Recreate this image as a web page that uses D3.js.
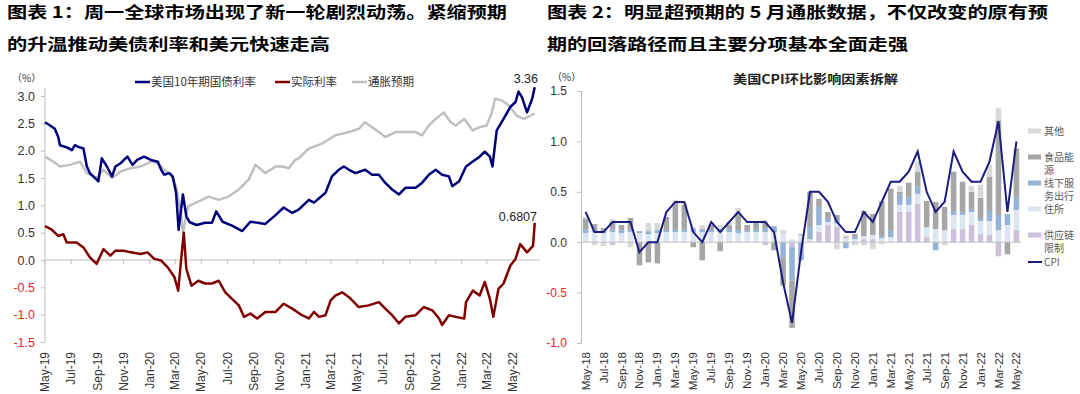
<!DOCTYPE html>
<html>
<head>
<meta charset="utf-8">
<script src="https://cdn.jsdelivr.net/npm/d3@7"></script>
<style>
  body { margin: 0; background: #fff; }
  svg text { font-family: "Liberation Sans", Arial, sans-serif; }
</style>
</head>
<body>
<div id="chart"></div>
<script>
// ---- left chart data (%) ----
var yield10y = [
  ["2019-05-01",2.52],["2019-05-13",2.46],["2019-05-24",2.40],["2019-06-01",2.25],["2019-06-05",2.10],
  ["2019-06-21",2.06],["2019-07-03",2.01],["2019-07-10",2.10],["2019-07-18",2.07],["2019-07-30",2.04],
  ["2019-08-07",1.71],["2019-08-14",1.59],["2019-08-22",1.53],["2019-09-03",1.44],["2019-09-11",1.86],
  ["2019-09-23",1.71],["2019-10-05",1.53],["2019-10-13",1.71],["2019-10-25",1.77],["2019-11-02",1.83],
  ["2019-11-10",1.89],["2019-11-22",1.74],["2019-12-03",1.83],["2019-12-19",1.89],["2020-01-04",1.83],
  ["2020-01-20",1.80],["2020-01-28",1.65],["2020-02-04",1.56],["2020-02-16",1.59],["2020-02-24",1.53],
  ["2020-03-03",1.23],["2020-03-09",0.55],["2020-03-19",1.20],["2020-03-27",0.80],["2020-04-04",0.69],
  ["2020-04-20",0.64],["2020-05-10",0.68],["2020-05-26",0.68],["2020-06-05",0.89],["2020-06-20",0.70],
  ["2020-07-12",0.63],["2020-08-05",0.53],["2020-08-24",0.70],["2020-09-10",0.68],["2020-09-28",0.66],
  ["2020-10-22",0.82],["2020-11-10",0.96],["2020-11-30",0.86],["2020-12-15",0.92],["2021-01-08",1.10],
  ["2021-01-20",1.05],["2021-02-16",1.23],["2021-03-03",1.53],["2021-03-19",1.65],["2021-03-31",1.71],
  ["2021-04-12",1.65],["2021-04-27",1.59],["2021-05-20",1.65],["2021-06-05",1.56],["2021-06-21",1.56],
  ["2021-07-06",1.41],["2021-07-22",1.29],["2021-08-07",1.20],["2021-08-22",1.32],["2021-09-15",1.32],
  ["2021-09-30",1.41],["2021-10-16",1.56],["2021-11-01",1.65],["2021-11-16",1.56],["2021-12-02",1.53],
  ["2021-12-10",1.35],["2021-12-26",1.44],["2022-01-11",1.71],["2022-01-27",1.80],["2022-02-12",1.89],
  ["2022-02-24",1.98],["2022-03-08",1.89],["2022-03-14",1.71],["2022-03-24",2.37],["2022-04-09",2.58],
  ["2022-04-25",2.80],["2022-05-07",2.89],["2022-05-14",3.08],["2022-05-22",2.98],["2022-06-03",2.70],
  ["2022-06-15",2.95],["2022-06-21",3.16]
];
var realRate = [
  ["2019-05-01",0.62],["2019-05-16",0.56],["2019-06-01",0.44],["2019-06-13",0.47],["2019-06-21",0.32],
  ["2019-07-14",0.32],["2019-07-30",0.23],["2019-08-14",0.05],["2019-08-30",-0.07],["2019-09-15",0.20],
  ["2019-10-01",0.08],["2019-10-13",0.17],["2019-11-02",0.17],["2019-11-18",0.14],["2019-12-11",0.11],
  ["2019-12-27",0.14],["2020-01-12",0.02],["2020-01-28",-0.01],["2020-02-12",-0.13],["2020-02-28",-0.31],
  ["2020-03-08",-0.56],["2020-03-15",0.02],["2020-03-21",0.50],["2020-03-27",-0.16],["2020-04-08",-0.47],
  ["2020-04-24",-0.38],["2020-05-10",-0.43],["2020-05-26",-0.43],["2020-06-11",-0.38],["2020-06-26",-0.59],
  ["2020-07-12",-0.71],["2020-07-28",-0.83],["2020-08-09",-1.04],["2020-08-24",-0.98],["2020-09-09",-1.07],
  ["2020-09-28",-0.95],["2020-10-22",-0.95],["2020-11-10",-0.80],["2020-11-30",-0.89],["2020-12-23",-1.01],
  ["2021-01-08",-1.07],["2021-01-20",-0.95],["2021-02-01",-1.04],["2021-02-16",-1.01],["2021-02-28",-0.74],
  ["2021-03-11",-0.65],["2021-03-27",-0.59],["2021-04-12",-0.68],["2021-05-05",-0.86],["2021-05-28",-0.83],
  ["2021-06-21",-0.77],["2021-07-06",-0.89],["2021-07-22",-1.01],["2021-08-07",-1.16],["2021-08-22",-1.04],
  ["2021-09-15",-1.01],["2021-10-04",-0.86],["2021-10-24",-0.92],["2021-11-09",-1.07],["2021-11-16",-1.19],
  ["2021-12-02",-1.01],["2021-12-18",-1.04],["2022-01-07",-1.07],["2022-01-11",-0.77],["2022-01-27",-0.56],
  ["2022-02-12",-0.65],["2022-02-24",-0.40],["2022-03-08",-0.71],["2022-03-16",-1.04],["2022-03-28",-0.53],
  ["2022-04-09",-0.43],["2022-04-25",-0.10],["2022-05-07",0.02],["2022-05-18",0.29],["2022-06-03",0.14],
  ["2022-06-17",0.26],["2022-06-21",0.68]
];
var breakeven = [
  ["2019-05-01",1.89],["2019-05-20",1.80],["2019-06-05",1.71],["2019-06-28",1.74],["2019-07-22",1.80],
  ["2019-08-07",1.59],["2019-08-30",1.50],["2019-09-15",1.65],["2019-10-05",1.50],["2019-10-25",1.62],
  ["2019-11-18",1.68],["2019-12-11",1.71],["2020-01-04",1.80],["2020-01-20",1.77],["2020-02-04",1.65],
  ["2020-02-20",1.56],["2020-03-03",1.35],["2020-03-15",0.80],["2020-03-19",0.50],["2020-03-31",0.98],
  ["2020-04-24",1.07],["2020-05-18",1.16],["2020-06-11",1.10],["2020-07-04",1.16],["2020-07-28",1.29],
  ["2020-08-20",1.47],["2020-09-05",1.74],["2020-09-28",1.59],["2020-10-22",1.71],["2020-11-06",1.71],
  ["2020-11-22",1.68],["2020-12-07",1.83],["2020-12-15",1.86],["2021-01-08",2.04],["2021-02-08",2.13],
  ["2021-03-11",2.28],["2021-04-12",2.34],["2021-05-05",2.40],["2021-05-20",2.52],["2021-06-05",2.43],
  ["2021-06-21",2.34],["2021-07-06",2.25],["2021-07-30",2.34],["2021-08-22",2.34],["2021-09-15",2.34],
  ["2021-09-30",2.28],["2021-10-16",2.46],["2021-11-01",2.58],["2021-11-20",2.70],["2021-12-06",2.52],
  ["2021-12-18",2.46],["2022-01-07",2.58],["2022-01-27",2.37],["2022-02-12",2.43],["2022-02-28",2.46],
  ["2022-03-12",2.68],["2022-03-20",2.95],["2022-04-05",2.92],["2022-04-21",2.83],["2022-05-10",2.64],
  ["2022-05-26",2.58],["2022-06-11",2.64],["2022-06-21",2.68]
];
var leftTicks = ["May-19","Jul-19","Sep-19","Nov-19","Jan-20","Mar-20","May-20","Jul-20","Sep-20","Nov-20",
  "Jan-21","Mar-21","May-21","Jul-21","Sep-21","Nov-21","Jan-22","Mar-22","May-22"];
var leftYTicks = [-1.5,-1.0,-0.5,0.0,0.5,1.0,1.5,2.0,2.5,3.0];

// ---- right chart data (pct-pt contribution to CPI m/m) ----
var months = ["May-18","Jun-18","Jul-18","Aug-18","Sep-18","Oct-18","Nov-18","Dec-18","Jan-19","Feb-19",
  "Mar-19","Apr-19","May-19","Jun-19","Jul-19","Aug-19","Sep-19","Oct-19","Nov-19","Dec-19","Jan-20",
  "Feb-20","Mar-20","Apr-20","May-20","Jun-20","Jul-20","Aug-20","Sep-20","Oct-20","Nov-20","Dec-20",
  "Jan-21","Feb-21","Mar-21","Apr-21","May-21","Jun-21","Jul-21","Aug-21","Sep-21","Oct-21","Nov-21",
  "Dec-21","Jan-22","Feb-22","Mar-22","Apr-22","May-22"];
var cpi = [0.3,0.1,0.1,0.2,0.2,0.2,-0.1,0.0,0.0,0.3,0.4,0.4,0.1,0.0,0.2,0.1,0.2,0.3,0.2,0.2,0.2,0.1,
  -0.4,-0.8,-0.1,0.5,0.5,0.4,0.2,0.1,0.1,0.3,0.2,0.4,0.6,0.6,0.7,0.9,0.5,0.3,0.4,0.9,0.7,0.6,0.6,0.8,1.2,0.3,1.0];
var supplyChain = [0,0,0,-0.03,0,0,0,0,0,0,0,0,0,0,0,0,0,0,0,0,-0.03,0,0,-0.05,0,0,0.10,0.17,0.15,0,0,0.03,
  0.03,0,0,0.30,0.30,0.38,0.05,0,0,0.13,0.13,0.17,0.08,0.07,-0.14,0,0.12];
var shelter = [0.09,0.10,0.09,0.10,0.09,0.10,0.09,0.08,0.09,0.10,0.10,0.10,0.10,0.10,0.10,0.10,0.10,0.09,
  0.10,0.10,0.10,0.10,0.08,0.03,0.07,0.03,0.07,0.03,0.04,0.04,0.03,0.03,0.04,0.04,0.05,0.07,0.07,0.10,
  0.10,0.13,0.12,0.14,0.14,0.13,0.13,0.14,0.12,0.17,0.20];
var services = [0.04,0.02,0.02,0.03,0.03,0.02,0.02,0.03,0.03,0.02,0.03,0.03,0.03,0.03,0.02,0.03,0.03,0.03,
  0.02,0.03,0.04,0.06,-0.15,-0.33,-0.18,0.12,0.18,0.03,0.02,-0.06,0.02,0,0.01,0.02,0.07,0.10,0.08,0.07,
  0,-0.08,0,0.04,0.03,0.03,0.03,0.10,0.15,0.11,0.13];
var foodEnergy = [0.10,0.06,0.03,0.07,0.05,0.12,-0.23,-0.20,-0.21,0.13,0.27,0.24,-0.05,-0.18,0.05,-0.09,
  0.04,0.16,0.05,0.06,0.06,-0.08,-0.28,-0.47,0.01,0.35,0.08,0.07,0.06,0.01,0.03,0.25,0.20,0.35,0.41,0.03,
  0.14,0.15,0.26,0.27,0.23,0.39,0.30,0.17,0.20,0.34,0.94,-0.12,0.48];
var other = [0.02,-0.03,-0.04,0.03,0,-0.05,0,0.08,0.07,0,0.02,0.02,0.02,0.04,0,0.04,0.03,0.06,0,0,0.02,0,
  0.04,0,0,0,0,0,-0.07,0.02,-0.03,-0.03,-0.07,-0.02,0,0.06,0,0.10,0,0,-0.03,0,0,0.06,0.13,0.12,0.12,0,0];
var rightYTicks = [-1.0,-0.5,0.0,0.5,1.0,1.5];

var W = 1080, H = 394;
var svg = d3.select('#chart').append('svg').attr('width', W).attr('height', H);

var axisGray = '#bfbfbf', labelColor = '#333', negColor = '#e8262b';
var fmt = function (d) { return d.toFixed(1); };   // plain hyphen, not d3's unicode minus
var parseDay = d3.timeParse('%Y-%m-%d');
var parseMonth = d3.timeParse('%b-%y');

// titles
function title(x, y, txt, len) {
  svg.append('text').attr('x', x).attr('y', y)
    .attr('textLength', len).attr('lengthAdjust', 'spacingAndGlyphs')
    .style('font-family', '"Noto Sans CJK SC", sans-serif')
    .style('font-weight', 'bold').style('font-size', '16px').attr('fill', '#000')
    .text(txt);
}
title(7, 18, '图表 1：周一全球市场出现了新一轮剧烈动荡。紧缩预期', 500);
title(7, 50, '的升温推动美债利率和美元快速走高', 323);
title(547, 18, '图表 2：明显超预期的 5 月通胀数据，不仅改变的原有预', 501);
title(547, 50, '期的回落路径而且主要分项基本全面走强', 361);

// ================= left chart =================
var xL = d3.scaleTime().domain([new Date(2019, 4, 1), new Date(2022, 6, 1)]).range([45, 539]);
var yL = d3.scaleLinear().domain([-1.5, 3]).range([342, 96]);
var left = svg.append('g');

var yAxisL = left.append('g').attr('transform', 'translate(45,0)')
  .call(d3.axisLeft(yL).tickValues(leftYTicks).tickFormat(fmt).tickSize(4).tickPadding(6));
yAxisL.select('.domain').remove();
yAxisL.selectAll('line').attr('stroke', axisGray);
yAxisL.selectAll('text')
  .style('font-size', '12.5px')
  .attr('fill', function (d) { return d < 0 ? negColor : labelColor; });
left.append('line').attr('x1', 45).attr('x2', 45).attr('y1', yL(-1.5)).attr('y2', 88)
  .attr('stroke', axisGray);

// zero axis with date ticks
left.append('line').attr('x1', 45).attr('x2', 540).attr('y1', yL(0)).attr('y2', yL(0))
  .attr('stroke', axisGray);
left.selectAll('.xt').data(leftTicks).enter().append('line')
  .attr('x1', function (d) { return xL(parseMonth(d)); }).attr('x2', function (d) { return xL(parseMonth(d)); })
  .attr('y1', yL(0)).attr('y2', yL(0) + 4).attr('stroke', axisGray);
left.selectAll('.xl').data(leftTicks).enter().append('text')
  .attr('transform', function (d) { return 'translate(' + xL(parseMonth(d)) + ',352) rotate(-90)'; })
  .attr('dy', '0.35em').attr('text-anchor', 'end')
  .style('font-size', '12px').attr('fill', labelColor)
  .text(function (d) { return d; });

var lineL = d3.line()
  .x(function (d) { return xL(parseDay(d[0])); })
  .y(function (d) { return yL(d[1]); });

left.append('path').datum(breakeven).attr('d', lineL)
  .attr('fill', 'none').attr('stroke', '#c0c0c0').attr('stroke-width', 2.5).attr('stroke-linejoin', 'round');
left.append('path').datum(yield10y).attr('d', lineL)
  .attr('fill', 'none').attr('stroke', '#00007a').attr('stroke-width', 2.5).attr('stroke-linejoin', 'round');
left.append('path').datum(realRate).attr('d', lineL)
  .attr('fill', 'none').attr('stroke', '#800000').attr('stroke-width', 2.5).attr('stroke-linejoin', 'round');

// end-value labels
left.append('text').attr('x', 538).attr('y', 83).attr('text-anchor', 'end')
  .style('font-size', '12.5px').attr('fill', '#222').text('3.36');
left.append('text').attr('x', 537).attr('y', 221).attr('text-anchor', 'end')
  .style('font-size', '12.5px').attr('fill', '#222').text('0.6807');

left.append('text').attr('x', 12).attr('y', 82)
  .style('font-family', '"Noto Sans CJK SC", sans-serif').style('font-size', '10px')
  .attr('fill', labelColor).text('（%）');

// left legend
var legL = [
  { name: '美国10年期国债利率', c: '#00007a', x: 135 },
  { name: '实际利率', c: '#800000', x: 275 },
  { name: '通胀预期', c: '#c0c0c0', x: 352 }
];
legL.forEach(function (l) {
  left.append('line').attr('x1', l.x).attr('x2', l.x + 15).attr('y1', 82).attr('y2', 82)
    .attr('stroke', l.c).attr('stroke-width', 2.5);
  left.append('text').attr('x', l.x + 16).attr('y', 82).attr('dy', '0.35em')
    .style('font-family', '"Noto Sans CJK SC", sans-serif').style('font-size', '11.5px')
    .attr('fill', labelColor).text(l.name);
});

// ================= right chart =================
var keys = ['supplyChain', 'shelter', 'services', 'foodEnergy', 'other'];
var colors = { supplyChain: '#ccc1da', shelter: '#dce6f2', services: '#95b3d7', foodEnergy: '#a6a6a6', other: '#d9d9d9' };
var table = months.map(function (m, i) {
  return { month: m, supplyChain: supplyChain[i], shelter: shelter[i], services: services[i],
    foodEnergy: foodEnergy[i], other: other[i] };
});
var series = d3.stack().keys(keys).offset(d3.stackOffsetDiverging)(table);

var xR = d3.scaleBand().domain(months).range([581, 1021]).paddingInner(0.38).paddingOuter(0.2);
var yR = d3.scaleLinear().domain([-1, 1.5]).range([343, 91]);
var right = svg.append('g');

right.selectAll('g.s').data(series).enter().append('g')
  .attr('fill', function (s) { return colors[s.key]; })
  .selectAll('rect').data(function (s) { return s; }).enter().append('rect')
  .attr('x', function (d) { return xR(d.data.month); })
  .attr('width', xR.bandwidth())
  .attr('y', function (d) { return yR(Math.max(d[0], d[1])); })
  .attr('height', function (d) { return Math.abs(yR(d[0]) - yR(d[1])); });

var yAxisR = right.append('g').attr('transform', 'translate(581,0)')
  .call(d3.axisLeft(yR).tickValues(rightYTicks).tickFormat(fmt).tickSize(4).tickPadding(10));
yAxisR.select('.domain').attr('stroke', axisGray);
yAxisR.selectAll('line').attr('stroke', axisGray);
yAxisR.selectAll('text').style('font-size', '12px')
  .attr('fill', function (d) { return d < 0 ? negColor : labelColor; });

right.append('line').attr('x1', 581).attr('x2', 1021).attr('y1', yR(0)).attr('y2', yR(0))
  .attr('stroke', axisGray);
right.selectAll('.xl').data(months.filter(function (m, i) { return i % 2 === 0; })).enter().append('text')
  .attr('transform', function (d) { return 'translate(' + (xR(d) + xR.bandwidth() / 2) + ',352) rotate(-90)'; })
  .attr('dy', '0.35em').attr('text-anchor', 'end')
  .style('font-size', '11.5px').attr('fill', labelColor)
  .text(function (d) { return d; });

right.append('path').datum(cpi)
  .attr('d', d3.line()
    .x(function (d, i) { return xR(months[i]) + xR.bandwidth() / 2; })
    .y(function (d) { return yR(d); }))
  .attr('fill', 'none').attr('stroke', '#1c1c80').attr('stroke-width', 2);

right.append('text').attr('x', 552).attr('y', 81)
  .style('font-family', '"Noto Sans CJK SC", sans-serif').style('font-size', '10px')
  .attr('fill', labelColor).text('（%）');
right.append('text').attr('x', 733).attr('y', 84).attr('textLength', 165).attr('lengthAdjust', 'spacingAndGlyphs')
  .style('font-family', '"Noto Sans CJK SC", sans-serif').style('font-size', '12.5px')
  .style('font-weight', 'bold').attr('fill', '#222').text('美国CPI环比影响因素拆解');

// right legend
var legR = [
  { key: 'other', lines: ['其他'], y: 131 },
  { key: 'foodEnergy', lines: ['食品能', '源'], y: 157 },
  { key: 'services', lines: ['线下服', '务出行'], y: 183 },
  { key: 'shelter', lines: ['住所'], y: 209 },
  { key: 'supplyChain', lines: ['供应链', '限制'], y: 235 },
  { key: 'cpi', lines: ['CPI'], y: 262 }
];
legR.forEach(function (l) {
  if (l.key === 'cpi') {
    right.append('line').attr('x1', 1028).attr('x2', 1042).attr('y1', l.y).attr('y2', l.y)
      .attr('stroke', '#1c1c80').attr('stroke-width', 2);
  } else {
    right.append('rect').attr('x', 1028).attr('y', l.y - 2.5).attr('width', 13).attr('height', 5)
      .attr('fill', colors[l.key]);
  }
  l.lines.forEach(function (t, j) {
    right.append('text').attr('x', 1044).attr('y', l.y + j * 13).attr('dy', '0.35em')
      .style('font-family', '"Noto Sans CJK SC", sans-serif').style('font-size', '10px')
      .attr('fill', '#595959').text(t);
  });
});
</script>
</body>
</html>
